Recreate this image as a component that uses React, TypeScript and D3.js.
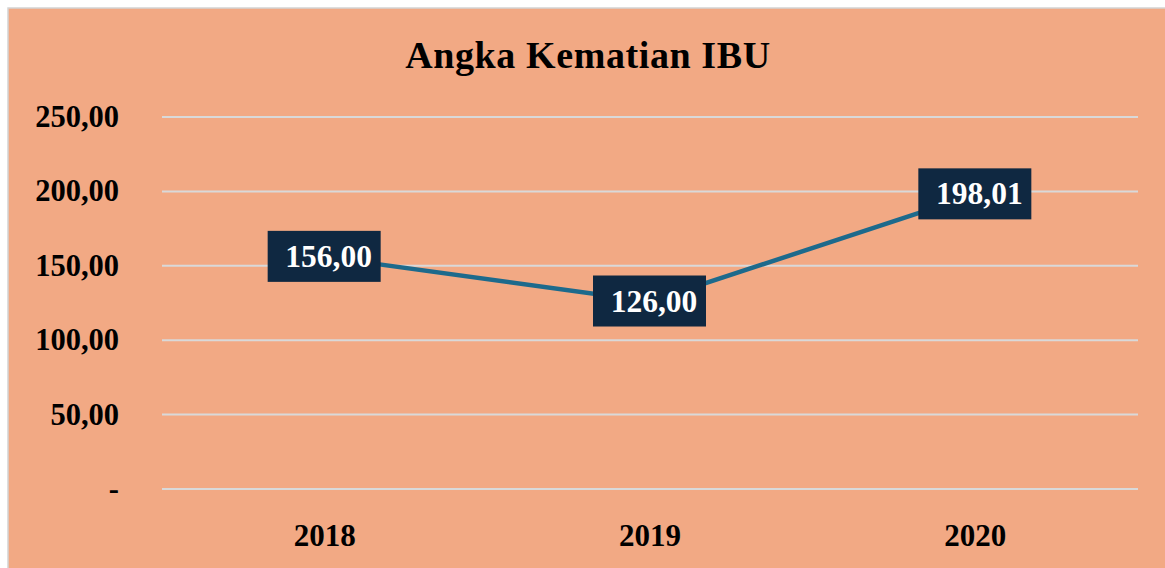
import React from "react";
import * as d3 from "d3";

const categories = ["2018", "2019", "2020"];
const values = [156.0, 126.0, 198.01];
const valueLabels = ["156,00", "126,00", "198,01"];
const yTicks = [0, 50, 100, 150, 200, 250];
const yTickLabels = ["-", "50,00", "100,00", "150,00", "200,00", "250,00"];
const title = "Angka Kematian IBU";

export default function App() {
  const W = 1165, H = 568;
  const left = 162, right = 1138, top = 117, bottom = 489;
  const x = d3.scaleBand().domain(categories).range([left, right]);
  const y = d3.scaleLinear().domain([0, 250]).range([bottom, top]);
  const font = "'Liberation Serif', 'DejaVu Serif', serif";
  const pts: [number, number][] = values.map((v, i) => [x(categories[i])! + x.bandwidth() / 2, y(v)]);
  const line = d3.line()(pts) || "";
  return (
    <svg width={W} height={H} style={{ position: "absolute", left: 0, top: 0 }}>
      <rect x={0} y={0} width={W} height={H} fill="#ffffff" />
      <rect x={8} y={8} width={W} height={H} fill="#F2A984" stroke="#d4d4d4" strokeWidth={1.5} />
      <text x={588} y={68} textAnchor="middle" fontFamily={font} fontWeight="bold" fontSize={38} letterSpacing={0.6} fill="#000">
        {title}
      </text>
      {yTicks.map((t, i) => (
        <g key={t}>
          <line x1={left} x2={right} y1={y(t)} y2={y(t)} stroke="#D9D9D9" strokeWidth={2} />
          <text x={119} y={y(t) + 10} textAnchor="end" fontFamily={font} fontWeight="bold" fontSize={30.5} fill="#000">
            {yTickLabels[i]}
          </text>
        </g>
      ))}
      {categories.map((c) => (
        <text key={c} x={x(c)! + x.bandwidth() / 2} y={546} textAnchor="middle" fontFamily={font} fontWeight="bold" fontSize={31} fill="#000">
          {c}
        </text>
      ))}
      <path d={line} fill="none" stroke="#1D6A8C" strokeWidth={4.5} />
      {pts.map(([px, py], i) => (
        <g key={i}>
          <rect x={px - 57} y={py - 26} width={113} height={51} fill="#0F2841" />
          <text x={px + 4} y={py + 10} textAnchor="middle" fontFamily={font} fontWeight="bold" fontSize={31.5} fill="#fff">
            {valueLabels[i]}
          </text>
        </g>
      ))}
    </svg>
  );
}
